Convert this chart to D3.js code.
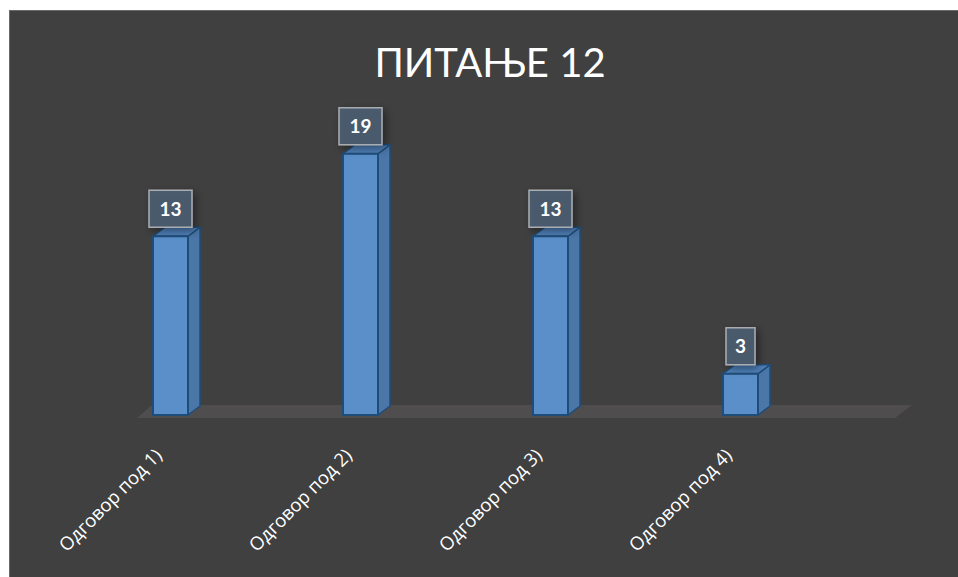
<!DOCTYPE html>
<html>
<head>
<meta charset="utf-8">
<script src="https://cdn.jsdelivr.net/npm/d3@7/dist/d3.min.js"></script>
<style>
  html, body { margin: 0; padding: 0; background: #ffffff; }
  svg { display: block; }
</style>
</head>
<body>
<svg id="chart" width="958" height="577"></svg>
<script>
// Responses to question 12
const title = "ПИТАЊЕ 12";
const categories = ["Одговор под 1)", "Одговор под 2)", "Одговор под 3)", "Одговор под 4)"];
const values = [13, 19, 13, 3];

const W = 958, H = 577;
const svg = d3.select("#chart");

const defs = svg.append("defs");
const shadow = defs.append("filter").attr("id", "soft").attr("x", "-50%").attr("y", "-50%").attr("width", "200%").attr("height", "200%");
shadow.append("feGaussianBlur").attr("in", "SourceAlpha").attr("stdDeviation", 4).attr("result", "b");
shadow.append("feOffset").attr("in", "b").attr("dx", 3).attr("dy", 3).attr("result", "o");
shadow.append("feComponentTransfer").attr("in", "o").attr("result", "s")
  .append("feFuncA").attr("type", "linear").attr("slope", 0.45);
const merge = shadow.append("feMerge");
merge.append("feMergeNode").attr("in", "s");
merge.append("feMergeNode").attr("in", "SourceGraphic");

// chart panel
svg.append("rect").attr("x", 9.5).attr("y", 10.5).attr("width", W).attr("height", H)
  .attr("fill", "#404040").attr("stroke", "#6a6a6a").attr("stroke-width", 1);

// title
svg.append("text").attr("x", 490).attr("y", 77).attr("text-anchor", "middle")
  .attr("font-family", "Lato, 'Open Sans', sans-serif").attr("font-size", 40)
  .attr("fill", "#ffffff").text(title);

const x = d3.scaleBand().domain(categories).range([75.5, 835.5]);
const y = d3.scaleLinear().domain([0, 20]).range([415, 140]);
const barW = 35;
const dx = 12, dy = -9;

// floor
const fx0 = 137, fx1 = 895, fy = 418, fdx = 15, fdy = -13;
svg.append("path")
  .attr("d", `M${fx0},${fy}L${fx0 + fdx},${fy + fdy}L${fx1 + fdx + 2},${fy + fdy}L${fx1},${fy}Z`)
  .attr("fill", "#4f4d4e");

const bars = svg.append("g").selectAll("g").data(categories).join("g");

bars.each(function(c, i) {
  const g = d3.select(this);
  const cx = x(c) + x.bandwidth() / 2;
  const x0 = cx - barW / 2, x1 = cx + barW / 2;
  const yt = y(values[i]), yb = y(0);
  const stroke = "#1f4d7a";
  // side face
  g.append("path").attr("d", `M${x1},${yt}L${x1 + dx},${yt + dy}L${x1 + dx},${yb + dy}L${x1},${yb}Z`)
    .attr("fill", "#4a76a8").attr("stroke", stroke).attr("stroke-width", 1.5).attr("stroke-linejoin", "round");
  // top face
  g.append("path").attr("d", `M${x0},${yt}L${x0 + dx},${yt + dy}L${x1 + dx},${yt + dy}L${x1},${yt}Z`)
    .attr("fill", "#4f80b8").attr("stroke", stroke).attr("stroke-width", 1.5).attr("stroke-linejoin", "round");
  // front face
  g.append("rect").attr("x", x0).attr("y", yt).attr("width", barW).attr("height", yb - yt)
    .attr("fill", "#5a8fc9").attr("stroke", stroke).attr("stroke-width", 2);
});

// value labels
const labels = svg.append("g").selectAll("g").data(categories).join("g");
labels.each(function(c, i) {
  const g = d3.select(this);
  const cx = x(c) + x.bandwidth() / 2;
  const yt = y(values[i]);
  const txt = String(values[i]);
  const bw = txt.length > 1 ? 43 : 29, bh = 37;
  const by = yt - 9 - bh;
  g.append("rect").attr("x", cx - bw / 2).attr("y", by).attr("width", bw).attr("height", bh)
    .attr("fill", "#4b5d70").attr("fill-opacity", 0.95)
    .attr("stroke", "#a9adb2").attr("stroke-width", 1.5).attr("filter", "url(#soft)");
  g.append("text").attr("x", cx).attr("y", by + bh / 2 + 7).attr("text-anchor", "middle")
    .attr("font-family", "Lato, 'Open Sans', sans-serif").attr("font-weight", 700).attr("font-size", 19)
    .attr("fill", "#ffffff").text(txt);
});

// category axis labels
const axis = d3.axisBottom(x).tickSize(0).tickPadding(0);
const ax = svg.append("g").attr("transform", "translate(-12,452)").call(axis);
ax.select(".domain").remove();
ax.selectAll("text")
  .attr("font-family", "'Open Sans', Lato, sans-serif").attr("font-size", 18.5)
  .attr("fill", "#ffffff").attr("text-anchor", "end")
  .attr("dy", "0.35em")
  .attr("transform", "rotate(-45)");
</script>
</body>
</html>
